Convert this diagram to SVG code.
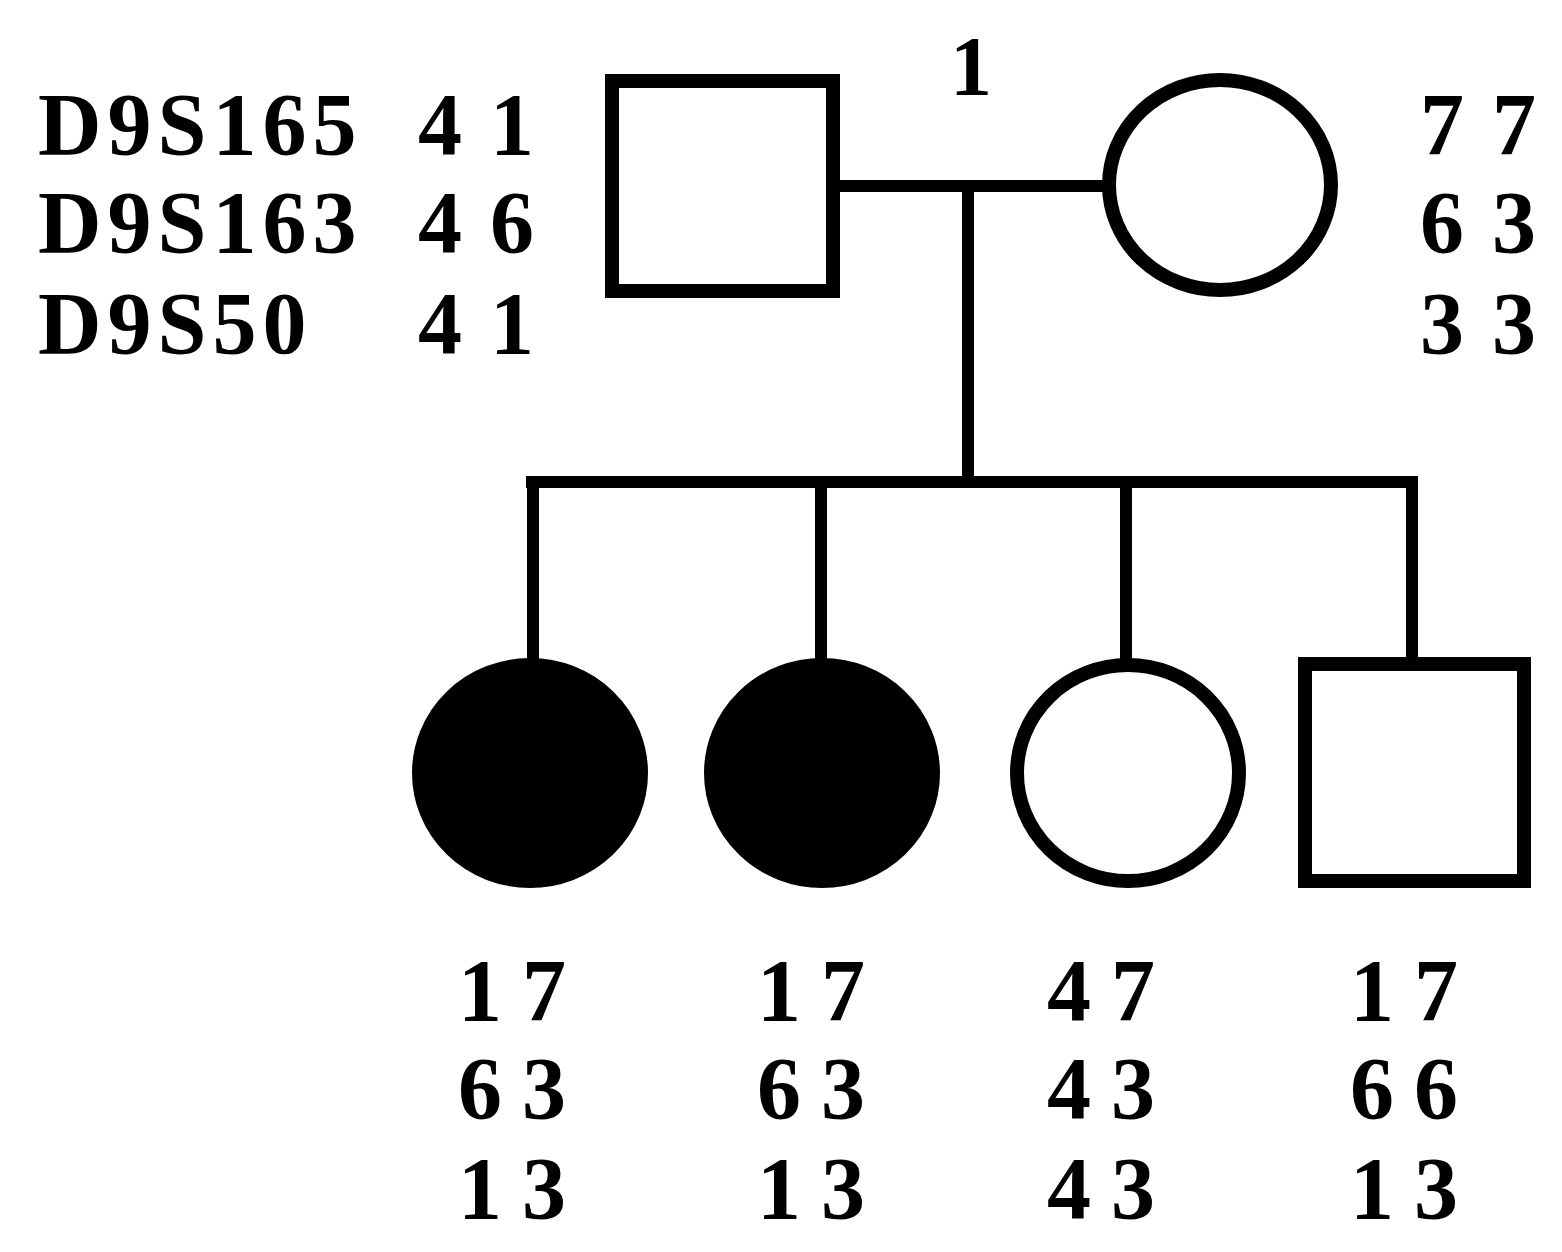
<svg xmlns="http://www.w3.org/2000/svg" width="1562" height="1252" viewBox="0 0 1562 1252">
<style>
.ln{stroke:#000;stroke-width:12;fill:none;stroke-linecap:square}
.shape{stroke:#000;stroke-width:14;fill:#fff}
.aff{fill:#000;stroke:#000;stroke-width:4}
text{font-family:"Liberation Serif","Times New Roman",serif;font-weight:bold;font-size:88px;fill:#000}
.lab{letter-spacing:6px}
.num{letter-spacing:28px}
.cn{letter-spacing:20px}
</style>
<rect width="1562" height="1252" fill="#fff"/>
<g id="connectors">
<line class="ln" x1="840" y1="186" x2="1105" y2="186"/>
<line class="ln" x1="968" y1="186" x2="968" y2="482"/>
<line class="ln" x1="532" y1="482" x2="1412" y2="482"/>
<line class="ln" x1="533" y1="482" x2="533" y2="660"/>
<line class="ln" x1="821" y1="482" x2="821" y2="660"/>
<line class="ln" x1="1126" y1="482" x2="1126" y2="660"/>
<line class="ln" x1="1412" y1="482" x2="1412" y2="658"/>
</g>
<g id="labels">
<text class="lab" x="38" y="154">D9S165</text>
<text class="lab" x="38" y="252">D9S163</text>
<text class="lab" x="38" y="353">D9S50</text>
<text x="950" y="95" style="font-size:84px">1</text>
</g>
<g id="father">
<rect class="shape" x="612" y="81" width="221" height="210"/>
<text class="num" x="418" y="154">41</text>
<text class="num" x="418" y="252">46</text>
<text class="num" x="418" y="353">41</text>
</g>
<g id="mother">
<ellipse class="shape" cx="1220" cy="185" rx="111" ry="105"/>
<text class="num" x="1420" y="154">77</text>
<text class="num" x="1420" y="252">63</text>
<text class="num" x="1420" y="353">33</text>
</g>
<g id="child1">
<ellipse class="aff" cx="530" cy="773" rx="116" ry="113"/>
<text class="cn" x="458" y="1020">17</text>
<text class="cn" x="458" y="1118">63</text>
<text class="cn" x="458" y="1218">13</text>
</g>
<g id="child2">
<ellipse class="aff" cx="822" cy="773" rx="116" ry="113"/>
<text class="cn" x="757" y="1020">17</text>
<text class="cn" x="757" y="1118">63</text>
<text class="cn" x="757" y="1218">13</text>
</g>
<g id="child3">
<ellipse class="shape" cx="1128" cy="773" rx="111" ry="108"/>
<text class="cn" x="1047" y="1020">47</text>
<text class="cn" x="1047" y="1118">43</text>
<text class="cn" x="1047" y="1218">43</text>
</g>
<g id="child4">
<rect class="shape" x="1305" y="664" width="219" height="217"/>
<text class="cn" x="1350" y="1020">17</text>
<text class="cn" x="1350" y="1118">66</text>
<text class="cn" x="1350" y="1218">13</text>
</g>
</svg>
